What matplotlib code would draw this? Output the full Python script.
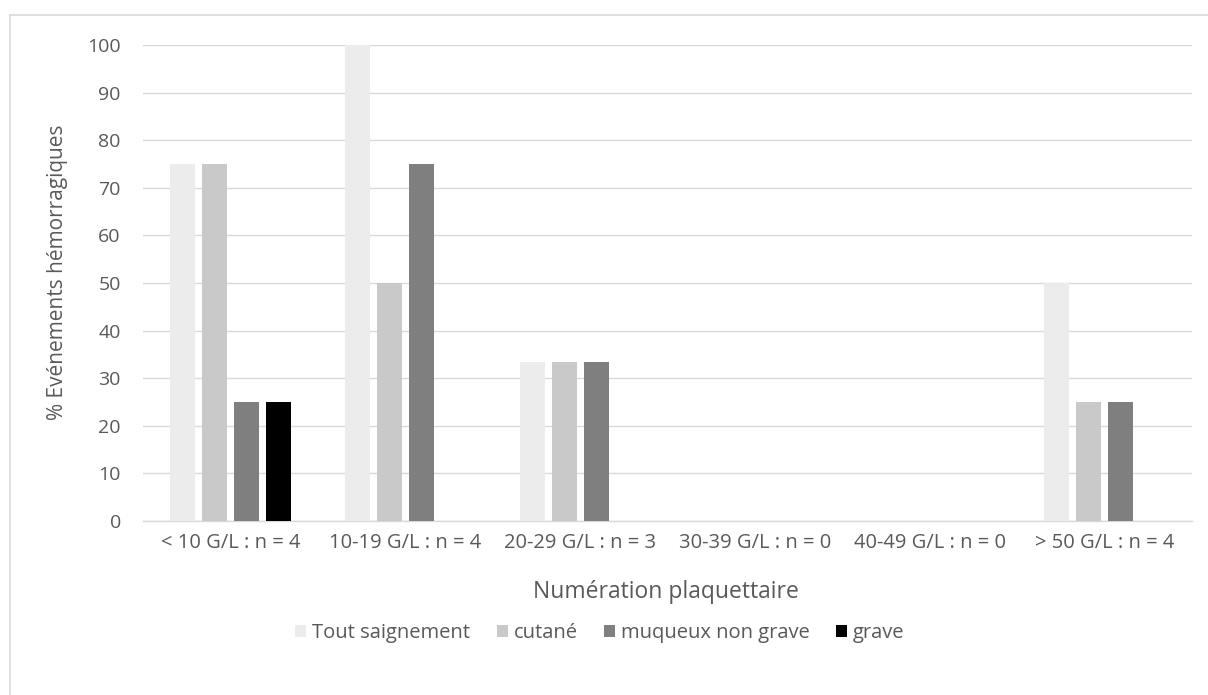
import matplotlib
matplotlib.use("Agg")
import matplotlib.pyplot as plt
import numpy as np
from matplotlib.lines import Line2D

categories = ["< 10 G/L : n = 4", "10-19 G/L : n = 4", "20-29 G/L : n = 3",
              "30-39 G/L : n = 0", "40-49 G/L : n = 0", "> 50 G/L : n = 4"]
series_names = ["Tout saignement", "cutané", "muqueux non grave", "grave"]
tout_saignement = [75, 100, 33.3, 0, 0, 50]
cutane = [75, 50, 33.3, 0, 0, 25]
muqueux_non_grave = [25, 75, 33.3, 0, 0, 25]
grave = [25, 0, 0, 0, 0, 0]
colors = ["#ececec", "#c9c9c9", "#7f7f7f", "#000000"]
y_ticks = [0, 10, 20, 30, 40, 50, 60, 70, 80, 90, 100]

plt.rcParams['font.family'] = ['Open Sans', 'DejaVu Sans']
text_color = "#595959"

W, H = 1208, 695
L, R, T, B = 143, 1192, 45, 521
fig = plt.figure(figsize=(W / 100, H / 100), dpi=100)
ax = fig.add_axes([L / W, 1 - B / H, (R - L) / W, (B - T) / H])

x = np.arange(len(categories))
step = 0.183
width = 0.143
all_series = [tout_saignement, cutane, muqueux_non_grave, grave]
for i, (vals, name, c) in enumerate(zip(all_series, series_names, colors)):
    ax.bar(x + (i - 1.5) * step, vals, width=width, color=c, label=name, zorder=3)

ax.set_xlim(-0.5, len(categories) - 0.5)
ax.set_ylim(0, 100)
ax.set_yticks(y_ticks)
ax.set_xticks(x)
ax.set_xticklabels(categories)
ax.tick_params(axis='both', length=0, labelcolor=text_color)
ax.tick_params(axis='y', pad=16, labelsize=14)
ax.tick_params(axis='x', pad=9, labelsize=14.5)
ax.grid(axis='y', color="#d9d9d9", linewidth=1, zorder=0)
for s in ["top", "right", "left"]:
    ax.spines[s].set_visible(False)
ax.spines["bottom"].set_color("#d9d9d9")
ax.spines["bottom"].set_linewidth(1)
ax.set_ylabel("% Evénements hémorragiques", fontsize=15, color=text_color)
ax.set_xlabel("Numération plaquettaire", fontsize=16.5, color=text_color)
ax.yaxis.label.set_va("center")
ax.yaxis.set_label_coords((58 - L) / (R - L), (B - 272) / (B - T))
ax.xaxis.label.set_va("center")
ax.xaxis.set_label_coords((666 - L) / (R - L), (B - 592) / (B - T))

fig.legend(loc="center", bbox_to_anchor=(600 / W, 1 - 633 / H), ncol=4, frameon=False,
           fontsize=14.5, handlelength=0.55, handleheight=0.55, handletextpad=0.3,
           columnspacing=1.3, labelcolor=text_color)

# outer chart border
fig.add_artist(Line2D([10 / W, 10 / W], [0, 1 - 15 / H], color="#d9d9d9", lw=1.2,
                      transform=fig.transFigure))
fig.add_artist(Line2D([10 / W, 1], [1 - 15 / H, 1 - 15 / H], color="#d9d9d9", lw=1.2,
                      transform=fig.transFigure))

fig.savefig("out.png", dpi=100)
